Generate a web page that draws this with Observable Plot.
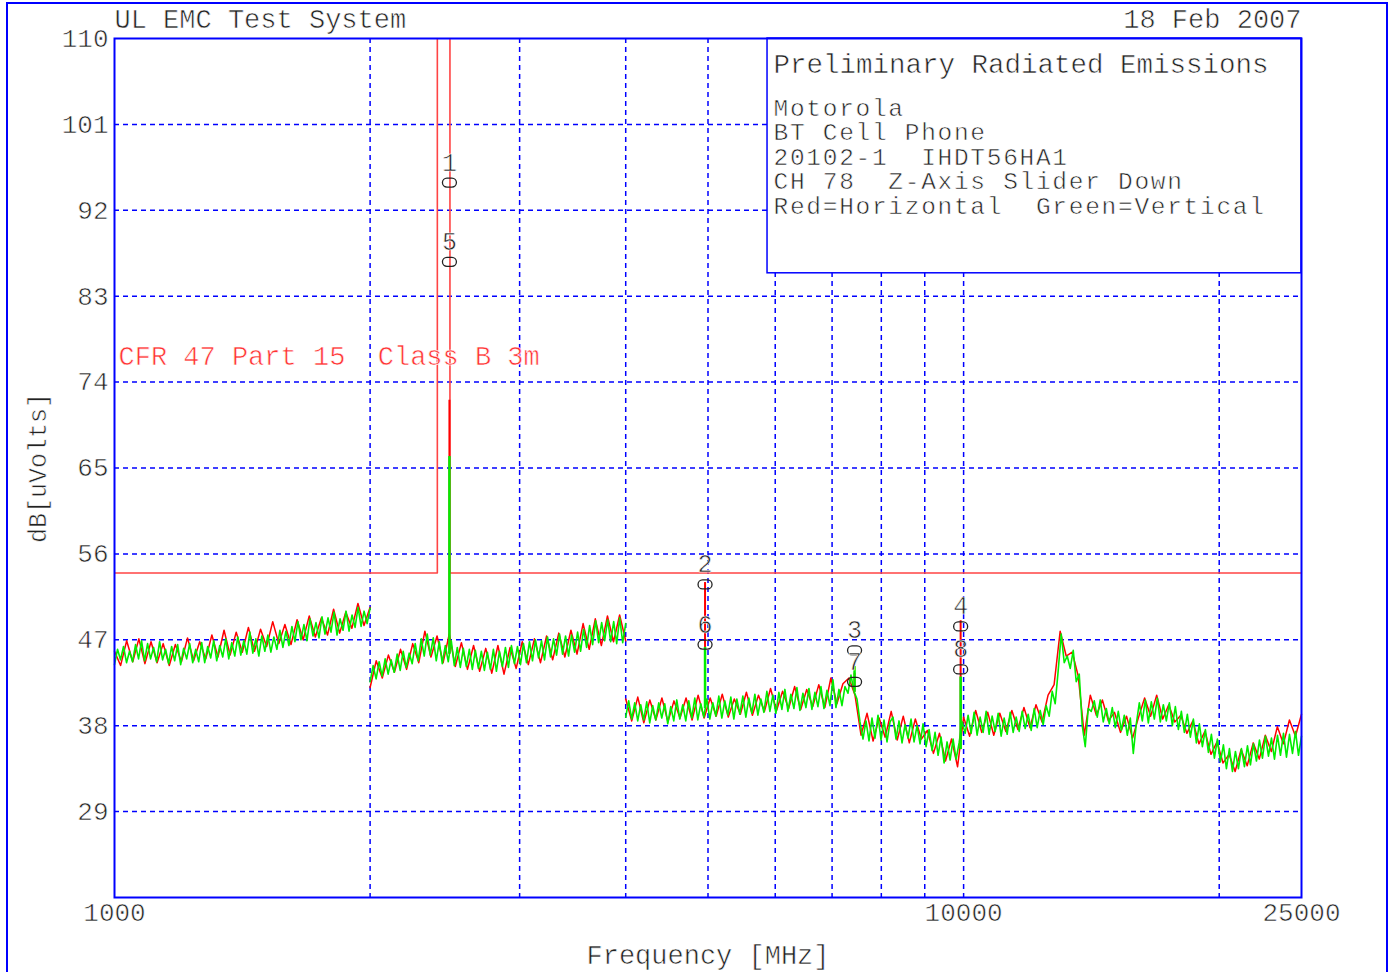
<!DOCTYPE html>
<html>
<head>
<meta charset="utf-8">
<script src="https://cdn.jsdelivr.net/npm/d3@7"></script>
<script src="https://cdn.jsdelivr.net/npm/@observablehq/plot@0.6"></script>
<style>
  html, body { margin: 0; padding: 0; background: #fff; }
  #wrap { position: relative; width: 1392px; height: 972px; overflow: hidden; }
  #border { position: absolute; left: 6px; top: 2px; width: 1382px; height: 1000px; border: 2px solid #0000ff; box-sizing: border-box; }
  #chart { position: absolute; left: 0; top: 0; }
  #chart svg { display: block; }
</style>
</head>
<body>
<div id="wrap"><div id="border"></div><div id="chart"></div></div>
<script>
// ---------- data ----------
const titleLeft = "UL EMC Test System";
const titleRight = "18 Feb 2007";
const xLabel = "Frequency [MHz]";
const yLabel = "dB[uVolts]";
const boxTitle = "Preliminary Radiated Emissions";
const boxLines = ["Motorola", "BT Cell Phone", "20102-1  IHDT56HA1", "CH 78  Z-Axis Slider Down", "Red=Horizontal  Green=Vertical"];
const limitName = "CFR 47 Part 15  Class B 3m";

const xTickValues = [1000, 10000, 25000];
const xGridValues = [2000, 3000, 4000, 5000, 6000, 7000, 8000, 9000, 10000, 20000];
const yTickValues = [29, 38, 47, 56, 65, 74, 83, 92, 101, 110];

// sweep segments (MHz)
const sweepSegments = [[1000, 2000], [2000, 4000], [4000, 25000]];

// Vertical polarization (green), dBuV
const greenSeg1 = [44.4,46.0,44.9,46.3,44.6,45.8,44.7,46.5,45.0,46.9,
  44.8,46.6,45.0,46.2,44.7,46.8,44.9,46.0,44.5,46.3,
  44.8,46.5,44.4,46.1,45.0,46.6,44.6,46.0,44.7,46.7,
  44.6,46.3,45.1,46.9,44.8,46.4,45.2,47.1,45.0,46.7,
  45.3,47.3,45.4,46.9,45.5,47.8,45.6,47.1,45.3,47.4,
  45.8,47.5,45.7,47.3,46.0,48.0,46.2,47.9,46.4,48.4,
  46.8,48.9,47.0,48.6,46.9,49.2,47.4,48.8,47.2,49.4,
  47.6,49.3,47.8,49.9,47.5,49.2,48.0,50.0,47.9,49.6,
  48.3,50.4,48.4,50.0,48.7,50.3];
const greenSeg2 = [42.6,44.3,42.9,44.7,43.2,45.0,43.4,44.9,43.6,45.5,
  43.8,45.8,44.1,45.6,44.5,46.6,44.8,47.1,45.3,47.6,
  45.4,47.2,44.8,46.8,44.5,46.4,44.7,46.9,44.3,46.2,
  44.1,46.1,44.2,46.0,43.9,45.9,44.0,45.8,43.8,45.7,
  43.9,46.0,43.7,45.8,44.2,46.2,44.1,46.4,44.5,46.3,
  44.4,46.6,44.6,46.8,44.8,47.0,45.1,46.9,44.9,47.3,
  45.2,47.1,45.4,47.6,45.5,47.4,45.3,47.5,45.7,47.8,
  45.8,48.1,46.2,48.5,46.5,49.0,46.7,48.8,46.9,49.1,
  46.8,48.9,46.6,49.3,46.7,48.7];
const greenSeg3 = [38.9,40.6,38.7,40.4,38.5,40.2,38.6,40.5,38.3,40.1,
  38.6,40.4,38.8,40.3,38.2,40.0,38.5,40.7,38.7,40.2,
  38.5,40.6,38.8,40.9,38.6,40.3,38.9,40.8,38.7,40.4,
  39.0,41.1,38.8,40.6,39.1,41.0,38.7,40.8,39.2,41.1,
  38.9,40.9,39.3,41.3,39.1,40.8,39.4,41.6,39.5,41.2,
  39.3,41.5,39.7,41.8,39.5,41.3,39.8,42.0,39.6,41.4,
  39.9,41.9,39.7,41.5,40.0,42.1,39.8,41.7,40.1,42.8,
  39.9,41.8,40.1,42.1,41.4,43.3,41.6,40.8,38.4,36.6,
  38.5,36.4,38.8,36.7,39.1,36.5,38.6,36.3,38.4,38.9,
  36.6,38.5,36.2,38.1,36.7,38.7,36.3,38.0,36.1,38.2,
  35.8,37.6,35.4,37.3,34.9,36.8,34.1,36.3,34.4,36.6,
  34.5,36.2,38.4,37.2,39.1,37.2,39.4,37.0,38.9,37.3,
  39.5,37.1,39.0,37.4,39.3,36.9,38.8,37.1,39.4,37.3,
  38.9,37.4,39.5,37.7,39.2,37.5,39.8,37.8,39.6,38.1,
  40.1,39.0,41.6,40.3,43.8,47.6,44.6,45.3,44.0,45.9,
  42.6,43.4,38.0,35.8,39.8,39.5,40.6,38.9,40.7,38.4,
  39.8,38.2,39.9,37.8,39.5,37.5,39.1,37.0,38.8,35.1,
  38.2,40.4,38.5,40.7,38.3,40.5,38.7,40.9,38.4,40.2,
  38.5,40.4,38.0,40.0,37.6,39.5,37.3,39.2,36.8,38.7,
  36.2,38.2,35.8,37.6,35.2,37.1,34.6,36.6,34.2,36.0,
  33.5,35.6,33.2,35.3,33.5,35.6,33.7,35.9,33.9,36.1,
  34.3,36.5,34.6,36.9,34.8,36.7,34.5,37.0,34.9,37.2,
  34.7,37.1,35.1,37.4,34.9,36.9];

// Horizontal polarization (red), dBuV
const redSeg1 = [45.8,44.3,46.9,44.7,47.1,44.5,46.8,44.6,46.6,44.3,
  46.5,44.7,47.2,44.8,46.8,45.0,47.5,45.2,48.0,45.4,
  47.8,45.7,48.3,45.8,48.1,46.3,48.9,46.6,48.6,46.5,
  49.1,47.0,49.5,47.3,49.3,47.5,50.2,47.7,49.9,48.2,
  50.8,48.5,50.4];
const redSeg2 = [42.0,44.8,43.0,45.4,43.6,46.0,43.9,46.6,44.6,47.9,
  45.2,47.4,44.6,47.6,44.2,46.7,43.9,46.4,43.7,46.1,
  43.5,46.4,43.4,46.2,44.0,46.8,44.4,47.1,44.6,47.4,
  44.9,47.7,45.2,48.0,45.5,48.7,46.0,49.2,46.4,49.5,
  46.8,49.6,46.9];
const redSeg3 = [40.8,38.5,41.0,38.3,40.7,38.6,40.9,38.4,40.6,38.8,
  40.9,38.6,41.2,38.8,40.9,39.0,41.3,38.9,40.8,39.2,
  41.5,39.1,41.2,39.5,41.9,39.6,41.6,39.8,42.1,39.7,
  41.8,40.0,42.3,39.9,43.0,40.3,42.4,43.0,41.2,37.0,
  39.3,36.4,38.8,36.8,39.5,36.5,39.0,36.2,38.7,36.6,
  37.5,35.1,37.2,34.3,36.6,33.7,38.9,36.9,39.6,37.3,
  39.4,37.0,39.3,37.4,39.6,37.6,39.9,37.8,40.2,38.4,
  41.2,42.3,47.9,45.3,45.7,43.2,37.0,41.2,39.1,40.7,
  38.5,39.4,37.3,39.0,36.7,38.9,40.9,39.0,41.2,38.7,
  40.2,38.4,39.1,37.2,38.5,36.1,37.4,35.0,36.3,34.1,
  35.0,33.2,35.5,33.8,36.2,34.5,37.0,35.3,37.9,36.1,
  38.6,36.9,39.2];

// narrowband emissions (spikes)
const spikeFreq  = [2480, 4960, 7440, 9920];
const spikeBase  = [45.5, 39.8, 41.5, 35.5];
const spikeRed   = [72.1, 53.0, 43.5, 49.0];
const spikeGreen = [66.2, 46.2, 44.2, 43.1];

// markers
const markerLabel = ["1", "5", "2", "6", "3", "7", "4", "8"];
const markerFreq  = [2480, 2480, 4960, 4960, 7440, 7440, 9920, 9920];
const markerLevel = [94.9, 86.6, 52.8, 46.5, 45.9, 42.6, 48.4, 43.9];

// limit line
const limitFreq  = [1000, 2400, 2400, 2483.5, 2483.5, 25000];
const limitLevel = [54, 54, 130, 130, 54, 54];
const limitLabelLevel = 76.7;

// info box extent
const boxFreq = [5876, 25000];
const boxLevel = [85.4, 110];

// ---------- build tables ----------
function sweep(vals, seg) {
  const [f0, f1] = sweepSegments[seg];
  return vals.map((v, i) => ({f: f0 * Math.pow(f1 / f0, i / (vals.length - 1)), v, seg}));
}
const green = [...sweep(greenSeg1, 0), ...sweep(greenSeg2, 1), ...sweep(greenSeg3, 2)];
const red = [...sweep(redSeg1, 0), ...sweep(redSeg2, 1), ...sweep(redSeg3, 2)];
const spikes = spikeFreq.map((f, i) => ({f, base: spikeBase[i], r: spikeRed[i], g: spikeGreen[i]}));
const markers = markerLabel.map((t, i) => ({t, f: markerFreq[i], v: markerLevel[i]}));
const limit = limitFreq.map((f, i) => ({f, v: limitLevel[i]}));

const markerSymbol = {
  draw(ctx) {
    const w = 2.5, r = 4.5;
    ctx.moveTo(-w, -r);
    ctx.lineTo(w, -r);
    ctx.arc(w, 0, r, -Math.PI / 2, Math.PI / 2);
    ctx.lineTo(-w, r);
    ctx.arc(-w, 0, r, Math.PI / 2, Math.PI * 3 / 2);
    ctx.closePath();
  }
};

const FONT = "Liberation Mono";
const TXT = "#222";
const BLUE = "#0000ff";
const grid = {stroke: BLUE, strokeWidth: 1.5, strokeDasharray: "5,4", strokeOpacity: 1};

const chart = Plot.plot({
  width: 1392,
  height: 972,
  marginLeft: 114,
  marginRight: 91,
  marginTop: 38,
  marginBottom: 75,
  style: {fontFamily: FONT, fontSize: "26px", background: "transparent"},
  x: {type: "log", domain: [1000, 25000], axis: null},
  y: {domain: [20, 110], axis: null},
  marks: [
    Plot.ruleX(xGridValues, {x: d => d, ...grid}),
    Plot.ruleY(yTickValues.filter(d => d < 110), {y: d => d, ...grid}),
    Plot.line(limit, {x: "f", y: "v", stroke: "#ff4444", strokeWidth: 1.6, clip: true}),
    Plot.line(red, {x: "f", y: "v", z: "seg", stroke: "#ff0000", strokeWidth: 1.5}),
    Plot.line(green, {x: "f", y: "v", z: "seg", stroke: "#00ee00", strokeWidth: 1.6}),
    Plot.ruleX(spikes, {x: "f", y1: "base", y2: "r", stroke: "#ff0000", strokeWidth: 2}),
    Plot.ruleX(spikes, {x: "f", y1: "base", y2: "g", stroke: "#00ee00", strokeWidth: 2.5}),
    Plot.dot(markers, {x: "f", y: "v", symbol: markerSymbol, r: 4, stroke: TXT, strokeWidth: 1.3, fill: "none"}),
    Plot.text(markers, {x: "f", y: "v", text: "t", dy: -20, fontSize: 25, fill: TXT, fontFamily: FONT}),
    Plot.rect([0], {x1: boxFreq[0], x2: boxFreq[1], y1: boxLevel[0], y2: boxLevel[1], fill: "white", stroke: BLUE, strokeWidth: 1.5}),
    Plot.text([boxTitle], {x: boxFreq[0], y: boxLevel[1], text: d => d, textAnchor: "start", lineAnchor: "top", dx: 6, dy: 15, fontSize: 27.5, fill: TXT, fontFamily: FONT}),
    Plot.text([boxLines.join("\n")], {x: boxFreq[0], y: boxLevel[1], text: d => d, textAnchor: "start", lineAnchor: "top", lineHeight: 1, dx: 6, dy: 60, fontSize: 24.5, fill: TXT, fontFamily: FONT}),
    Plot.text([limitName], {x: 1000, y: limitLabelLevel, text: d => d, textAnchor: "start", dx: 4, fontSize: 27, fill: "#ff3333", fontFamily: FONT}),
    Plot.frame({stroke: BLUE, strokeWidth: 2}),
    Plot.text(yTickValues, {x: 1000, y: d => d, text: d => String(d), textAnchor: "end", dx: -6, fontSize: 26, fill: TXT, fontFamily: FONT}),
    Plot.text(xTickValues, {x: d => d, y: 20, text: d => String(d), dy: 15, fontSize: 26, fill: TXT, fontFamily: FONT}),
    Plot.text([xLabel], {frameAnchor: "bottom", text: d => d, textAnchor: "middle", lineAnchor: "middle", dy: 58, fontSize: 27, fill: TXT, fontFamily: FONT}),
    Plot.text([yLabel], {frameAnchor: "left", text: d => d, textAnchor: "middle", lineAnchor: "middle", rotate: -90, dx: -77, fontSize: 25, fill: TXT, fontFamily: FONT}),
    Plot.text([titleLeft], {frameAnchor: "top-left", text: d => d, textAnchor: "start", lineAnchor: "bottom", dy: -11, fontSize: 27, fill: TXT, fontFamily: FONT}),
    Plot.text([titleRight], {frameAnchor: "top-right", text: d => d, textAnchor: "end", lineAnchor: "bottom", dy: -11, fontSize: 27, fill: TXT, fontFamily: FONT})
  ]
});
// thin the glyph strokes a little to resemble the plotter's stroke font
d3.select(chart).selectAll("text")
  .attr("stroke", "white").attr("stroke-width", 0.6).style("paint-order", "normal");
// the plotter font of the info lines is widely spaced
d3.select(chart).selectAll("text")
  .filter(function() { return this.textContent.startsWith(boxLines[0]); })
  .style("letter-spacing", "1.7px");
document.getElementById("chart").appendChild(chart);
</script>
</body>
</html>
